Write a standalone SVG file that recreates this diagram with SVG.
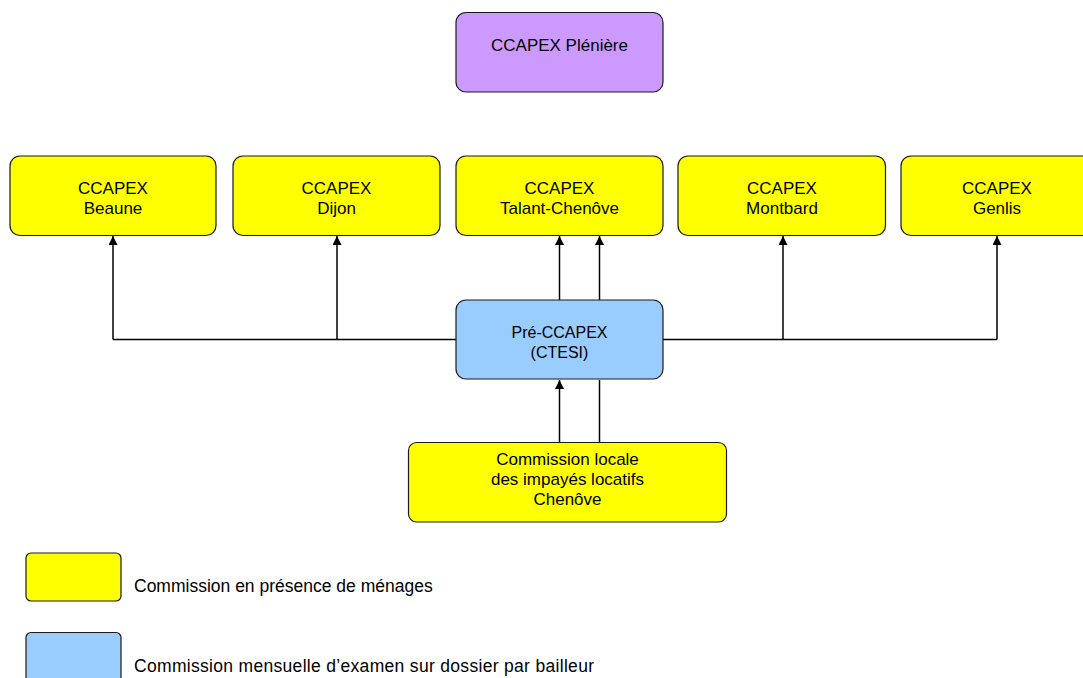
<svg xmlns="http://www.w3.org/2000/svg" width="1083" height="678" viewBox="0 0 1083 678">
<style>
.box{stroke:#1a1a1a;stroke-width:1.2}
.y{fill:#FFFF00}
.p{fill:#CC99FF}
.b{fill:#99CCFF}
.t{font-family:"Liberation Sans",Arial,sans-serif;font-size:17px;fill:#000;text-anchor:middle}
.s{font-size:16px}
.lg{font-family:"Liberation Sans",Arial,sans-serif;font-size:17.5px;fill:#000}
.c{stroke:#000;stroke-width:1.5;fill:none}
</style>
<defs>
<marker id="ah" viewBox="0 0 10 10" refX="10" refY="5" markerWidth="10" markerHeight="9" markerUnits="userSpaceOnUse" orient="auto">
<path d="M0,0 L10,5 L0,10 z" fill="#000"/>
</marker>
</defs>
<rect width="1083" height="678" fill="#fff"/>
<g id="connectors">
<path class="c" d="M113,339.5 H997"/>
<path class="c" d="M113,339.5 V236" marker-end="url(#ah)"/>
<path class="c" d="M337,339.5 V236" marker-end="url(#ah)"/>
<path class="c" d="M783,339.5 V236" marker-end="url(#ah)"/>
<path class="c" d="M997,339.5 V236" marker-end="url(#ah)"/>
<path class="c" d="M559.5,300 V236" marker-end="url(#ah)"/>
<path class="c" d="M599.5,300 V236" marker-end="url(#ah)"/>
<path class="c" d="M559.5,442 V380" marker-end="url(#ah)"/>
<path class="c" d="M599.5,442 V380"/>
</g>
<g id="pleniere">
<rect class="box p" x="456" y="12.5" width="207" height="79.5" rx="10"/>
<text class="t" x="559.5" y="50.7">CCAPEX Plénière</text>
</g>
<g id="beaune">
<rect class="box y" x="10" y="156" width="206" height="79.5" rx="10"/>
<text class="t" x="113" y="194.3">CCAPEX</text>
<text class="t" x="113" y="214.3">Beaune</text>
</g>
<g id="dijon">
<rect class="box y" x="233" y="156" width="207" height="79.5" rx="10"/>
<text class="t" x="336.5" y="194.3">CCAPEX</text>
<text class="t" x="336.5" y="214.3">Dijon</text>
</g>
<g id="talant">
<rect class="box y" x="456" y="156" width="207" height="79.5" rx="10"/>
<text class="t" x="559.5" y="194.3">CCAPEX</text>
<text class="t" x="559.5" y="214.3">Talant-Chenôve</text>
</g>
<g id="montbard">
<rect class="box y" x="678" y="156" width="207.5" height="79.5" rx="10"/>
<text class="t" x="782" y="194.3">CCAPEX</text>
<text class="t" x="782" y="214.3">Montbard</text>
</g>
<g id="genlis">
<rect class="box y" x="901" y="156" width="192" height="79.5" rx="10"/>
<text class="t" x="997" y="194.3">CCAPEX</text>
<text class="t" x="997" y="214.3">Genlis</text>
</g>
<g id="pre-ccapex">
<rect class="box b" x="456" y="300" width="207" height="79" rx="10"/>
<text class="t s" x="559.5" y="337.5">Pré-CCAPEX</text>
<text class="t s" x="559.5" y="357.5">(CTESI)</text>
</g>
<g id="commission-locale">
<rect class="box y" x="408.5" y="442.5" width="318" height="79.5" rx="8"/>
<text class="t" x="567.5" y="465">Commission locale</text>
<text class="t" x="567.5" y="485">des impayés locatifs</text>
<text class="t" x="567.5" y="505">Chenôve</text>
</g>
<g id="legend">
<rect class="box y" x="26" y="553" width="95" height="48" rx="5"/>
<text class="lg" x="134" y="591.7">Commission en présence de ménages</text>
<rect class="box b" x="26" y="632.5" width="95" height="55" rx="5"/>
<text class="lg" x="134" y="672" textLength="460" lengthAdjust="spacing">Commission mensuelle d’examen sur dossier par bailleur</text>
</g>
</svg>
